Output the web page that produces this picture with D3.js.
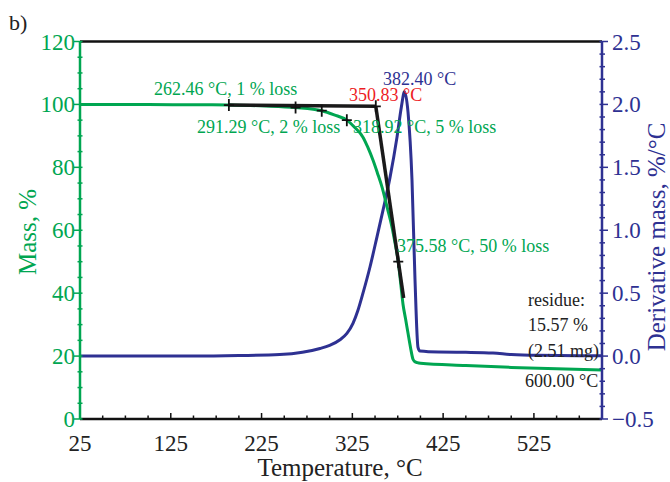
<!DOCTYPE html>
<html>
<head>
<meta charset="utf-8">
<script src="https://cdn.jsdelivr.net/npm/d3@7"></script>
<style>
  body { margin: 0; background: #fff; }
  svg { display: block; font-family: "Liberation Serif", "Times New Roman", serif; }
</style>
</head>
<body>
<div id="chart"></div>
<script>
(function() {
  // --- data ---
  const massTemp = [25, 100, 150, 190, 230, 262.46, 291.29, 305, 318.92, 328, 336.7, 342, 347.7, 352.5, 357.7, 363.2, 368.7, 372, 375.58, 378.3, 380.8, 383.5, 386.3, 389.2, 391.8, 394, 396.5, 400, 450, 500, 550, 600];
  const massVal  = [100, 99.95, 99.9, 99.8, 99.5, 99, 98, 96.7, 95, 92.6, 89.6, 86.4, 82.3, 78.3, 73.7, 67.4, 61, 56, 50, 43, 36.5, 32, 27.3, 22.5, 19, 18.2, 17.9, 17.7, 17.0, 16.4, 15.95, 15.57];

  const dtgTemp = [25, 100, 150, 200, 245, 270, 289.4, 300, 311.4, 319, 325.7, 331, 336.7, 344.5, 352.2, 358.8, 366.5, 374.2, 379, 382.4, 386.3, 390.7, 394, 397.3, 399.5, 420, 450, 480, 500, 530, 600];
  const dtgVal  = [0.0, 0.0, 0.0, 0.004, 0.012, 0.03, 0.06, 0.085, 0.13, 0.18, 0.26, 0.36, 0.5, 0.71, 0.95, 1.16, 1.42, 1.74, 1.98, 2.1, 1.94, 1.4, 0.61, 0.07, 0.04, 0.032, 0.03, 0.025, 0.012, 0.006, 0.003];

  // tangent construction (onset) and marked points
  const baseTemp = [189, 350.83];
  const baseMass = [99.8, 99.4];
  const steepTemp = [350.83, 381.5];
  const steepMass = [99.4, 38.5];
  const markTemp = [189, 262.46, 291.29, 318.92, 350.83, 375.58];
  const markMass = [99.8, 99, 98, 95, 99.4, 50];

  const xTicks = [25, 125, 225, 325, 425, 525];
  const massTicks = [0, 20, 40, 60, 80, 100, 120];
  const dtgTicks = [-0.5, 0, 0.5, 1.0, 1.5, 2.0, 2.5];

  const W = 670, H = 482;
  const green = "#00a651", navy = "#2e3192", red = "#ed1c24";

  const x = d3.scaleLinear().domain([25, 600]).range([80, 602]);
  const yM = d3.scaleLinear().domain([0, 120]).range([419, 41.5]);
  const yD = d3.scaleLinear().domain([-0.5, 2.5]).range([419, 41.5]);

  const svg = d3.select("#chart").append("svg")
    .attr("width", W).attr("height", H);

  // --- curves ---
  const massData = massTemp.map((t, i) => [t, massVal[i]]);
  const dtgData = dtgTemp.map((t, i) => [t, dtgVal[i]]);

  svg.append("path")
    .datum(dtgData)
    .attr("fill", "none").attr("stroke", navy).attr("stroke-width", 3)
    .attr("d", d3.line().x(d => x(d[0])).y(d => yD(d[1])).curve(d3.curveMonotoneX));

  svg.append("path")
    .datum(massData)
    .attr("fill", "none").attr("stroke", green).attr("stroke-width", 3)
    .attr("d", d3.line().x(d => x(d[0])).y(d => yM(d[1])).curve(d3.curveMonotoneX));

  // tangent lines
  const tline = d3.line().x(d => x(d[0])).y(d => yM(d[1]));
  svg.append("path")
    .datum(baseTemp.map((t, i) => [t, baseMass[i]]))
    .attr("fill", "none").attr("stroke", "#1a1a1a").attr("stroke-width", 3.5)
    .attr("d", tline);
  svg.append("path")
    .datum(steepTemp.map((t, i) => [t, steepMass[i]]))
    .attr("fill", "none").attr("stroke", "#1a1a1a").attr("stroke-width", 3.5)
    .attr("d", tline);

  // cross marks
  markTemp.forEach((t, i) => {
    const cx = x(t), cy = yM(markMass[i]);
    svg.append("path")
      .attr("d", `M${cx - 5},${cy}H${cx + 5}M${cx},${cy - 6}V${cy + 6}`)
      .attr("stroke", "#111").attr("stroke-width", 1.8);
  });

  // --- frame and axes ---
  svg.append("line")
    .attr("x1", x(25)).attr("x2", x(600)).attr("y1", yM(120)).attr("y2", yM(120))
    .attr("stroke", "#111").attr("stroke-width", 2.5);

  // bottom axis
  svg.append("line")
    .attr("x1", x(25)).attr("x2", x(600)).attr("y1", yM(0)).attr("y2", yM(0))
    .attr("stroke", "#111").attr("stroke-width", 2.5);
  d3.range(25, 601, 25).forEach(t => {
    const major = xTicks.includes(t);
    svg.append("line")
      .attr("x1", x(t)).attr("x2", x(t))
      .attr("y1", yM(0)).attr("y2", yM(0) - (major ? 6 : 3.5))
      .attr("stroke", "#111").attr("stroke-width", 1.5);
  });
  svg.selectAll("text.xt").data(xTicks).enter().append("text")
    .attr("class", "xt")
    .attr("x", d => x(d)).attr("y", 451)
    .attr("text-anchor", "middle")
    .attr("font-size", 23).attr("fill", "#222")
    .text(d => d);

  // left axis (mass)
  svg.append("line")
    .attr("x1", x(25)).attr("x2", x(25)).attr("y1", yM(0)).attr("y2", yM(120))
    .attr("stroke", green).attr("stroke-width", 2.5);
  d3.range(0, 121, 5).forEach(v => {
    const major = v % 20 === 0;
    svg.append("line")
      .attr("x1", x(25) - (major ? 6 : 2.5)).attr("x2", x(25) + 2.5)
      .attr("y1", yM(v)).attr("y2", yM(v))
      .attr("stroke", green).attr("stroke-width", 1.5);
  });
  svg.selectAll("text.ym").data(massTicks).enter().append("text")
    .attr("class", "ym")
    .attr("x", 75).attr("y", d => yM(d) + 8)
    .attr("text-anchor", "end")
    .attr("font-size", 23).attr("fill", green)
    .text(d => d);

  // right axis (derivative)
  svg.append("line")
    .attr("x1", x(600)).attr("x2", x(600)).attr("y1", yD(-0.5)).attr("y2", yD(2.5))
    .attr("stroke", navy).attr("stroke-width", 2.5);
  d3.range(-5, 26, 1).forEach(k => {
    const v = k / 10;
    const major = k % 5 === 0;
    svg.append("line")
      .attr("x1", x(600) - 2.5).attr("x2", x(600) + (major ? 6 : 3))
      .attr("y1", yD(v)).attr("y2", yD(v))
      .attr("stroke", navy).attr("stroke-width", 1.5);
  });
  svg.selectAll("text.yd").data(dtgTicks).enter().append("text")
    .attr("class", "yd")
    .attr("x", 612).attr("y", d => yD(d) + 8)
    .attr("font-size", 23).attr("fill", navy)
    .text(d => d3.format(".1f")(d));

  // axis titles
  svg.append("text")
    .attr("x", 340).attr("y", 476)
    .attr("text-anchor", "middle").attr("font-size", 25).attr("fill", "#222")
    .text("Temperature, °C");
  svg.append("text")
    .attr("transform", "translate(36,232) rotate(-90)")
    .attr("text-anchor", "middle").attr("font-size", 25).attr("fill", green)
    .text("Mass, %");
  svg.append("text")
    .attr("transform", "translate(665,237) rotate(-90)")
    .attr("text-anchor", "middle").attr("font-size", 25).attr("fill", navy)
    .text("Derivative mass, %/°C");

  svg.append("text")
    .attr("x", 9).attr("y", 30).attr("font-size", 22).attr("fill", "#222")
    .text("b)");

  // --- annotations ---
  const ann = [
    { t: "262.46 °C, 1 % loss", x: 154, y: 95, c: green },
    { t: "291.29 °C, 2 % loss", x: 197, y: 133, c: green },
    { t: "318.92 °C, 5 % loss", x: 353, y: 133, c: green },
    { t: "350.83 °C", x: 349, y: 101, c: red },
    { t: "382.40 °C", x: 383, y: 85, c: navy },
    { t: "375.58 °C, 50 % loss", x: 397, y: 252, c: green },
    { t: "residue:", x: 528, y: 306, c: "#222" },
    { t: "15.57 %", x: 528, y: 331, c: "#222" },
    { t: "(2.51 mg)", x: 528, y: 357, c: "#222" },
    { t: "600.00 °C", x: 525, y: 387, c: "#222" }
  ];
  svg.selectAll("text.ann").data(ann).enter().append("text")
    .attr("class", "ann")
    .attr("x", d => d.x).attr("y", d => d.y)
    .attr("font-size", 18).attr("fill", d => d.c)
    .text(d => d.t);
})();
</script>
</body>
</html>
